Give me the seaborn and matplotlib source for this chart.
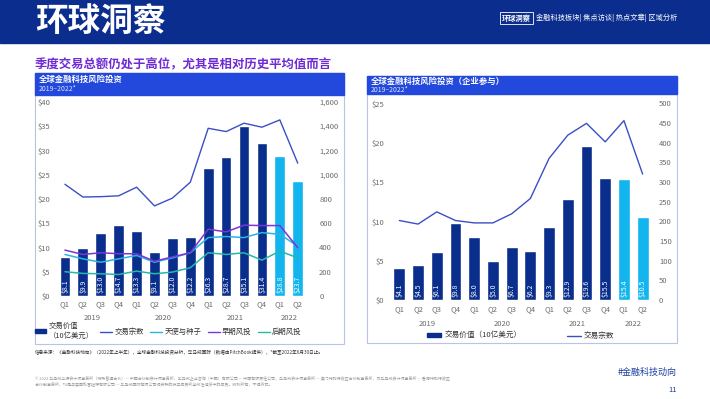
import matplotlib
matplotlib.use("Agg")
import matplotlib.pyplot as plt
import matplotlib.transforms as mtrans
from matplotlib.patches import Rectangle, Patch
from matplotlib.lines import Line2D
import seaborn as sns
import pandas as pd

sns.set_theme(style="white")
plt.rcParams['font.family'] = ['Noto Sans CJK SC', 'DejaVu Sans']

# ---- data ----
quarters = ["Q1", "Q2", "Q3", "Q4"] * 3 + ["Q1", "Q2"]
periods = ["2019Q1", "2019Q2", "2019Q3", "2019Q4", "2020Q1", "2020Q2", "2020Q3", "2020Q4",
           "2021Q1", "2021Q2", "2021Q3", "2021Q4", "2022Q1", "2022Q2"]
years = ["2019", "2020", "2021", "2022"]
status = ["full"] * 12 + ["ytd"] * 2

deal_value = [8.1, 9.9, 13.0, 14.7, 13.3, 9.1, 12.0, 12.2, 26.3, 28.7, 35.1, 31.4, 28.8, 23.7]
deal_count = [920, 815, 818, 825, 896, 742, 806, 937, 1381, 1354, 1423, 1390, 1450, 1094]
angel_seed = [342, 306, 278, 306, 334, 278, 314, 356, 481, 490, 481, 522, 508, 410]
early_vc = [378, 342, 356, 348, 348, 286, 322, 356, 550, 528, 583, 580, 580, 398]
late_vc = [200, 186, 183, 177, 205, 183, 197, 233, 356, 342, 356, 295, 370, 314]

corp_value = [4.1, 4.5, 6.1, 9.8, 8.0, 5.0, 6.7, 6.2, 9.3, 12.9, 19.6, 15.5, 15.4, 10.5]
corp_count = [202, 193, 224, 202, 196, 196, 219, 258, 360, 419, 449, 402, 456, 320]

NAVY = "#0a2e8c"
SKY = "#12b5ee"
BAND = "#2348dc"
C_COUNT = "#3a4fc4"
C_ANGEL = "#2ab4e6"
C_EARLY = "#7a34d8"
C_LATE = "#26b8aa"
GRAY = "#6b6b6b"

W, H = 710, 399
fig = plt.figure(figsize=(7.1, 3.99), dpi=100)


def fx(x):
    return x / W


def fy(y):
    return 1 - y / H


def rect(x0, y0, x1, y1, **kw):
    fig.patches.append(Rectangle((fx(x0), fy(y1)), fx(x1 - x0), (y1 - y0) / H,
                                 transform=fig.transFigure, **kw))


# ---- page header ----
rect(0, 0, 710, 43, color="#0b2d8e", zorder=0)
fig.text(fx(35), fy(21), "环球洞察", color="white", fontsize=23.5, fontweight="bold", va="center")
fig.text(fx(502), fy(18), "环球洞察", color="white", fontsize=5.2, fontweight="bold", va="center",
         bbox=dict(boxstyle="square,pad=0.25", fc="none", ec="white", lw=0.6))
fig.text(fx(536), fy(18), "金融科技板块| 焦点访谈| 热点文章| 区域分析", color="white",
         fontsize=5.2, va="center")
fig.text(fx(35), fy(65), "季度交易总额仍处于高位，尤其是相对历史平均值而言",
         color="#6e2ad4", fontsize=8.9, fontweight="bold", va="center")

# panel frames and headers
rect(35, 73, 344, 344, fill=False, ec="#b8c4e6", lw=0.8)
rect(35, 73, 344, 95, color=BAND)
fig.text(fx(39), fy(79), "全球金融科技风险投资", color="white", fontsize=6, fontweight="bold", va="center")
fig.text(fx(39), fy(89), "2019–2022*", color="#dfe6ff", fontsize=5, va="center")

rect(367, 76, 677, 343, fill=False, ec="#b8c4e6", lw=0.8)
rect(367, 76, 677, 94, color=BAND)
fig.text(fx(371), fy(81), "全球金融科技风险投资（企业参与）", color="white", fontsize=6,
         fontweight="bold", va="center")
fig.text(fx(371), fy(90), "2019–2022*", color="#dfe6ff", fontsize=5, va="center")


def draw_panel(rc, values, ymax, ystep, cmax, cstep, lines, width, lab_y, qpad, year_y, rpad):
    ax = fig.add_axes(rc)
    df = pd.DataFrame({"period": periods, "value": values, "status": status})
    sns.barplot(data=df, x="period", y="value", hue="status", palette={"full": NAVY, "ytd": SKY},
                width=width, dodge=False, legend=False, saturation=1, ax=ax)
    for i, v in enumerate(values):
        ax.text(i, lab_y, f"${v:.1f}", rotation=90, ha="center", va="bottom",
                color="white", fontsize=5)
    ax2 = ax.twinx()
    pos = list(range(len(periods)))
    for ys, col, lw in lines:
        sns.lineplot(x=pos, y=ys, color=col, linewidth=lw, ax=ax2)
    ax.set_xlim(-0.5, len(periods) - 0.5)
    ax.set_ylim(0, ymax)
    ax2.set_ylim(0, cmax)
    ax.set_yticks(range(0, ymax + 1, ystep))
    ax.set_yticklabels([f"${t}" for t in range(0, ymax + 1, ystep)])
    ax2.set_yticks(range(0, cmax + 1, cstep))
    ax2.set_yticklabels([f"{t:,}" for t in range(0, cmax + 1, cstep)])
    ax.set_xticks(pos)
    ax.set_xticklabels(quarters)
    ax.set_xlabel("")
    ax.set_ylabel("")
    ax2.set_ylabel("")
    for a in (ax, ax2):
        for s in a.spines.values():
            s.set_visible(False)
        a.grid(False)
        a.set_facecolor("none")
    ax.tick_params(axis="x", length=0, pad=qpad, labelsize=5.5, labelcolor=GRAY)
    ax.tick_params(axis="y", length=0, pad=4, labelsize=5.5, labelcolor=GRAY)
    ax2.tick_params(axis="y", length=0, pad=rpad, labelsize=5.5, labelcolor=GRAY)
    tr = mtrans.blended_transform_factory(ax.transData, ax.transAxes)
    for yr, xc in zip(years, [1.5, 5.5, 9.5, 12.5]):
        ax.text(xc, year_y, yr, transform=tr, ha="center", va="center", fontsize=5.5, color=GRAY)
    return ax


# left panel
draw_panel([fx(56), fy(296), fx(306.7) - fx(56), (296 - 101.7) / H],
           deal_value, 40, 5, 1600, 200,
           [(deal_count, C_COUNT, 1.0), (angel_seed, C_ANGEL, 1.1),
            (early_vc, C_EARLY, 1.1), (late_vc, C_LATE, 1.1)],
           0.6, 0.6, 3.2, -0.115, 9)

# right panel
draw_panel([fx(390), fy(300), fx(652) - fx(390), (300 - 103.3) / H],
           corp_value, 25, 5, 500, 50,
           [(corp_count, C_COUNT, 1.0)],
           0.63, 0.35, 4.0, -0.122, 5)

# legends
h_left = [Patch(color=NAVY), Line2D([], [], color=C_COUNT, lw=1),
          Line2D([], [], color=C_ANGEL, lw=1), Line2D([], [], color=C_EARLY, lw=1),
          Line2D([], [], color=C_LATE, lw=1)]
fig.legend(h_left, ["交易价值\n（10亿美元）", "交易宗数", "天使与种子", "早期风投", "后期风投"],
           loc="center", bbox_to_anchor=(fx(168), fy(331)), ncol=5, frameon=False,
           fontsize=5.3, handlelength=1.6, handleheight=0.5, handletextpad=0.3,
           columnspacing=0.9, labelcolor="#333333", borderpad=0)

h_right = [Patch(color=NAVY), Line2D([], [], color=C_COUNT, lw=1)]
fig.legend(h_right, ["交易价值（10亿美元）", "交易宗数"],
           loc="center", bbox_to_anchor=(fx(521), fy(336)), ncol=2, frameon=False,
           fontsize=5.5, handlelength=1.8, handleheight=0.5, handletextpad=0.4,
           columnspacing=6, labelcolor="#333333", borderpad=0)

# footer
fig.text(fx(35), fy(353), "信息来源：《金融科技动向》（2022年上半年），全球金融科技投资分析，毕马威国际（数据由PitchBook提供），*截至2022年6月30日止。",
         fontsize=3.3, color="#333333", va="center")
fig.text(fx(35), fy(378), "© 2022 毕马威华振会计师事务所（特殊普通合伙）— 中国合伙制会计师事务所，毕马威企业咨询（中国）有限公司 — 中国有限责任公司，毕马威会计师事务所 — 澳门特别行政区合伙制事务所，及毕马威会计师事务所 — 香港特别行政区",
         fontsize=2.9, color="#9a9a9a", va="center")
fig.text(fx(35), fy(384), "合伙制事务所，均是与英国私营担保有限公司 — 毕马威国际有限公司相关联的独立成员所全球性组织中的成员。版权所有，不得转载。",
         fontsize=2.9, color="#9a9a9a", va="center")
fig.text(fx(677), fy(372), "#金融科技动向", fontsize=6.5, color="#1c3d9e", ha="right", va="center")
fig.text(fx(677), fy(390), "11", fontsize=5.5, color="#1c3d9e", ha="right", va="center")

fig.savefig("out.png", dpi=100)
